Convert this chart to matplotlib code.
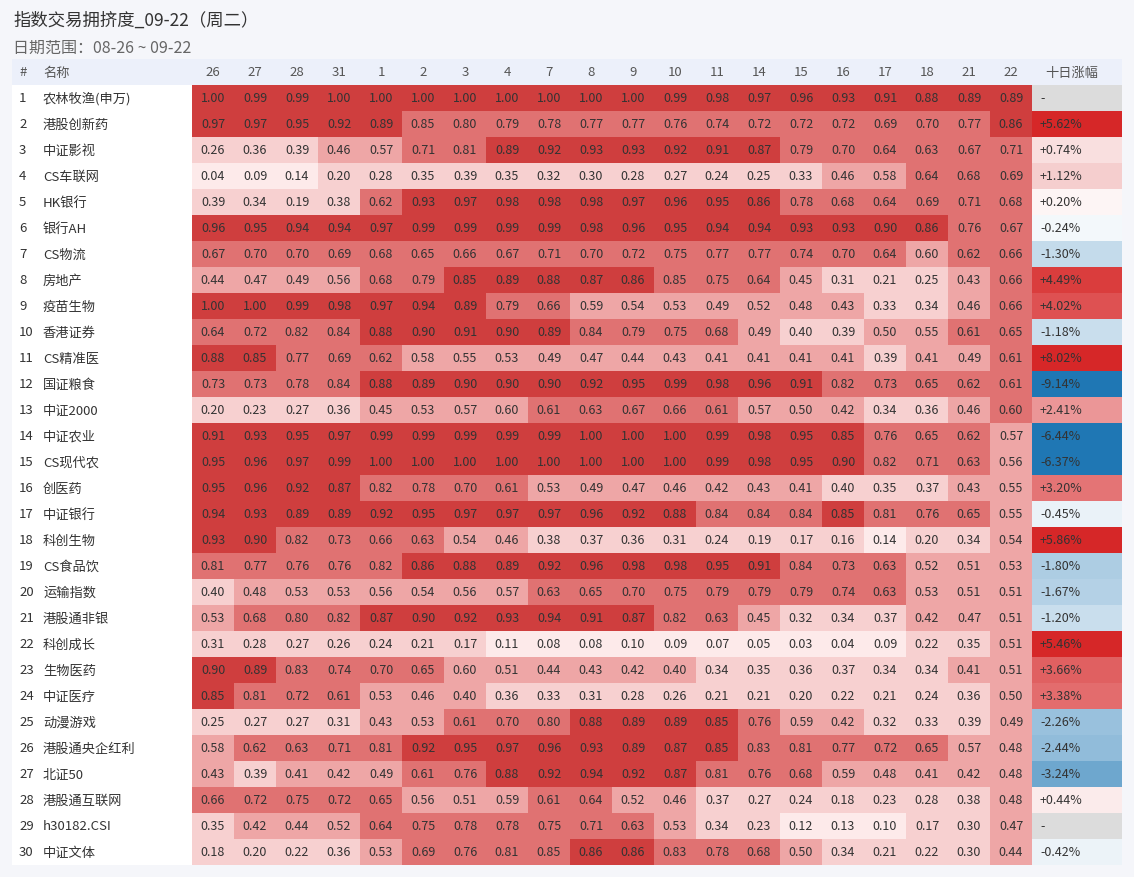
import numpy as np
import matplotlib
matplotlib.use("Agg")
import matplotlib.pyplot as plt
from matplotlib.colors import ListedColormap, BoundaryNorm, LinearSegmentedColormap
from matplotlib.patches import Rectangle

plt.rcParams['font.family'] = ['Noto Sans CJK SC', 'DejaVu Sans']

title = "指数交易拥挤度_09-22（周二）"
subtitle = "日期范围：08-26 ~ 09-22"

days = ["26", "27", "28", "31", "1", "2", "3", "4", "7", "8", "9", "10", "11",
        "14", "15", "16", "17", "18", "21", "22"]

names = ["农林牧渔(申万)", "港股创新药", "中证影视", "CS车联网", "HK银行", "银行AH",
         "CS物流", "房地产", "疫苗生物", "香港证券", "CS精准医", "国证粮食", "中证2000",
         "中证农业", "CS现代农", "创医药", "中证银行", "科创生物", "CS食品饮", "运输指数",
         "港股通非银", "科创成长", "生物医药", "中证医疗", "动漫游戏", "港股通央企红利",
         "北证50", "港股通互联网", "h30182.CSI", "中证文体"]

# crowding values per row (26 .. 22)
crowd = [
    [1.00, 0.99, 0.99, 1.00, 1.00, 1.00, 1.00, 1.00, 1.00, 1.00, 1.00, 0.99, 0.98, 0.97, 0.96, 0.93, 0.91, 0.88, 0.89, 0.89],
    [0.97, 0.97, 0.95, 0.92, 0.89, 0.848, 0.80, 0.79, 0.78, 0.77, 0.77, 0.76, 0.74, 0.72, 0.72, 0.72, 0.69, 0.70, 0.77, 0.86],
    [0.26, 0.36, 0.39, 0.46, 0.57, 0.71, 0.81, 0.89, 0.92, 0.93, 0.93, 0.92, 0.91, 0.87, 0.79, 0.70, 0.64, 0.63, 0.67, 0.71],
    [0.04, 0.09, 0.14, 0.20, 0.28, 0.35, 0.39, 0.35, 0.32, 0.30, 0.28, 0.27, 0.24, 0.25, 0.33, 0.46, 0.58, 0.64, 0.68, 0.69],
    [0.39, 0.34, 0.19, 0.38, 0.62, 0.93, 0.97, 0.98, 0.98, 0.98, 0.97, 0.96, 0.95, 0.86, 0.78, 0.68, 0.64, 0.69, 0.71, 0.68],
    [0.96, 0.95, 0.94, 0.94, 0.97, 0.99, 0.99, 0.99, 0.99, 0.98, 0.96, 0.95, 0.94, 0.94, 0.93, 0.93, 0.90, 0.86, 0.76, 0.67],
    [0.67, 0.70, 0.70, 0.69, 0.68, 0.65, 0.66, 0.67, 0.71, 0.70, 0.72, 0.75, 0.77, 0.77, 0.74, 0.70, 0.64, 0.598, 0.62, 0.66],
    [0.44, 0.47, 0.49, 0.56, 0.68, 0.79, 0.85, 0.89, 0.88, 0.87, 0.86, 0.848, 0.75, 0.64, 0.45, 0.31, 0.21, 0.25, 0.43, 0.66],
    [1.00, 1.00, 0.99, 0.98, 0.97, 0.94, 0.89, 0.79, 0.66, 0.59, 0.54, 0.53, 0.49, 0.52, 0.48, 0.43, 0.33, 0.34, 0.46, 0.66],
    [0.64, 0.72, 0.82, 0.84, 0.88, 0.90, 0.91, 0.90, 0.89, 0.84, 0.79, 0.75, 0.68, 0.49, 0.398, 0.39, 0.50, 0.55, 0.61, 0.65],
    [0.88, 0.85, 0.77, 0.69, 0.62, 0.58, 0.55, 0.53, 0.49, 0.47, 0.44, 0.43, 0.41, 0.41, 0.41, 0.41, 0.39, 0.41, 0.49, 0.61],
    [0.73, 0.73, 0.78, 0.84, 0.88, 0.89, 0.90, 0.90, 0.90, 0.92, 0.95, 0.99, 0.98, 0.96, 0.91, 0.82, 0.73, 0.65, 0.62, 0.61],
    [0.20, 0.23, 0.27, 0.36, 0.45, 0.53, 0.57, 0.598, 0.61, 0.63, 0.67, 0.66, 0.61, 0.57, 0.50, 0.42, 0.34, 0.36, 0.46, 0.60],
    [0.91, 0.93, 0.95, 0.97, 0.99, 0.99, 0.99, 0.99, 0.99, 1.00, 1.00, 1.00, 0.99, 0.98, 0.95, 0.85, 0.76, 0.65, 0.62, 0.57],
    [0.95, 0.96, 0.97, 0.99, 1.00, 1.00, 1.00, 1.00, 1.00, 1.00, 1.00, 1.00, 0.99, 0.98, 0.95, 0.90, 0.82, 0.71, 0.63, 0.56],
    [0.95, 0.96, 0.92, 0.87, 0.82, 0.78, 0.70, 0.61, 0.53, 0.49, 0.47, 0.46, 0.42, 0.43, 0.41, 0.398, 0.35, 0.37, 0.43, 0.55],
    [0.94, 0.93, 0.89, 0.89, 0.92, 0.95, 0.97, 0.97, 0.97, 0.96, 0.92, 0.88, 0.84, 0.84, 0.84, 0.85, 0.81, 0.76, 0.65, 0.55],
    [0.93, 0.90, 0.82, 0.73, 0.66, 0.63, 0.54, 0.46, 0.38, 0.37, 0.36, 0.31, 0.24, 0.19, 0.17, 0.16, 0.14, 0.20, 0.34, 0.54],
    [0.81, 0.77, 0.76, 0.76, 0.82, 0.86, 0.88, 0.89, 0.92, 0.96, 0.98, 0.98, 0.95, 0.91, 0.84, 0.73, 0.63, 0.52, 0.51, 0.53],
    [0.398, 0.48, 0.53, 0.53, 0.56, 0.54, 0.56, 0.57, 0.63, 0.65, 0.70, 0.75, 0.79, 0.79, 0.79, 0.74, 0.63, 0.53, 0.51, 0.51],
    [0.53, 0.68, 0.80, 0.82, 0.87, 0.90, 0.92, 0.93, 0.94, 0.91, 0.87, 0.82, 0.63, 0.45, 0.32, 0.34, 0.37, 0.42, 0.47, 0.51],
    [0.31, 0.28, 0.27, 0.26, 0.24, 0.21, 0.17, 0.11, 0.08, 0.08, 0.10, 0.09, 0.07, 0.05, 0.03, 0.04, 0.09, 0.22, 0.35, 0.51],
    [0.90, 0.89, 0.83, 0.74, 0.70, 0.65, 0.598, 0.51, 0.44, 0.43, 0.42, 0.40, 0.34, 0.35, 0.36, 0.37, 0.34, 0.34, 0.41, 0.51],
    [0.85, 0.81, 0.72, 0.61, 0.53, 0.46, 0.40, 0.36, 0.33, 0.31, 0.28, 0.26, 0.21, 0.21, 0.20, 0.22, 0.21, 0.24, 0.36, 0.50],
    [0.25, 0.27, 0.27, 0.31, 0.43, 0.53, 0.61, 0.70, 0.80, 0.88, 0.89, 0.89, 0.85, 0.76, 0.59, 0.42, 0.32, 0.33, 0.39, 0.49],
    [0.58, 0.62, 0.63, 0.71, 0.81, 0.92, 0.95, 0.97, 0.96, 0.93, 0.89, 0.87, 0.85, 0.83, 0.81, 0.77, 0.72, 0.65, 0.57, 0.48],
    [0.43, 0.39, 0.41, 0.42, 0.49, 0.61, 0.76, 0.88, 0.92, 0.94, 0.92, 0.87, 0.81, 0.76, 0.68, 0.59, 0.48, 0.41, 0.42, 0.48],
    [0.66, 0.72, 0.75, 0.72, 0.65, 0.56, 0.51, 0.59, 0.61, 0.64, 0.52, 0.46, 0.37, 0.27, 0.24, 0.18, 0.23, 0.28, 0.38, 0.48],
    [0.35, 0.42, 0.44, 0.52, 0.64, 0.75, 0.78, 0.78, 0.75, 0.71, 0.63, 0.53, 0.34, 0.23, 0.12, 0.13, 0.10, 0.17, 0.30, 0.47],
    [0.18, 0.20, 0.22, 0.36, 0.53, 0.69, 0.76, 0.81, 0.848, 0.86, 0.86, 0.83, 0.78, 0.68, 0.50, 0.34, 0.21, 0.22, 0.30, 0.44],
]

# 十日涨幅 (%), nan shown as "-"
change = [np.nan, 5.62, 0.74, 1.12, 0.20, -0.24, -1.30, 4.49, 4.02, -1.18,
          8.02, -9.14, 2.41, -6.44, -6.37, 3.20, -0.45, 5.86, -1.80, -1.67,
          -1.20, 5.46, 3.66, 3.38, -2.26, -2.44, -3.24, 0.44, np.nan, -0.42]

# layout (pixels)
W, H = 1134, 878
TABLE_L = 12
HEAD_TOP = 60
TOP = 86
ROW_H = 26
HEAT_L = 192
COL_W = 42
CHG_L = 1032
CHG_R = 1122

fig = plt.figure(figsize=(W / 100, H / 100), dpi=100, facecolor='#f5f6fa')
ax = fig.add_axes([0, 0, 1, 1])
ax.set_facecolor('#f5f6fa')

n_rows = len(names)
n_cols = len(days)
bottom = TOP + n_rows * ROW_H
heat_r = HEAT_L + n_cols * COL_W

ax.add_patch(Rectangle((TABLE_L, HEAD_TOP), CHG_R - TABLE_L, TOP - HEAD_TOP,
                       facecolor='#ecf0fa', edgecolor='none'))
ax.add_patch(Rectangle((TABLE_L, TOP), HEAT_L - TABLE_L, bottom - TOP,
                       facecolor='white', edgecolor='none'))

band_cmap = ListedColormap(['#fdeaea', '#f7d0d0', '#eea6a6', '#e07272', '#cf3e3e'])
band_norm = BoundaryNorm([0, 0.15, 0.399, 0.599, 0.849, 1.01], band_cmap.N)
ax.imshow(np.array(crowd), cmap=band_cmap, norm=band_norm, aspect='auto',
          interpolation='nearest', extent=(HEAT_L, heat_r, bottom, TOP))

chg_cmap = LinearSegmentedColormap.from_list('chg', ['#1f77b4', '#ffffff', '#d62728'])
chg_cmap.set_bad('#dcdcdc')
chg_arr = np.ma.masked_invalid(np.array(change, dtype=float)).reshape(-1, 1)
ax.imshow(chg_arr, cmap=chg_cmap, vmin=-5, vmax=5, aspect='auto',
          interpolation='nearest', extent=(CHG_L, CHG_R, bottom, TOP))

ax.set_xlim(0, W)
ax.set_ylim(H, 0)
ax.axis('off')

txt = '#333333'
hdr_y = (HEAD_TOP + TOP) / 2
ax.text(19, hdr_y, "#", ha='left', va='center', fontsize=9.5, color='#555555')
ax.text(43, hdr_y, "名称", ha='left', va='center', fontsize=9.5, color='#555555')
for j, d in enumerate(days):
    ax.text(HEAT_L + (j + 0.5) * COL_W, hdr_y, d, ha='center', va='center',
            fontsize=9.5, color='#555555')
ax.text(CHG_L + 13, hdr_y, "十日涨幅", ha='left', va='center', fontsize=9.5, color='#555555')

for i, name in enumerate(names):
    y = TOP + (i + 0.5) * ROW_H
    ax.text(19, y, str(i + 1), ha='left', va='center', fontsize=9.5, color=txt)
    ax.text(43, y, name, ha='left', va='center', fontsize=9.5, color=txt)
    for j, v in enumerate(crowd[i]):
        ax.text(HEAT_L + (j + 0.5) * COL_W, y, f"{v:.2f}", ha='center', va='center',
                fontsize=9, color=txt)
    c = change[i]
    label = "-" if np.isnan(c) else f"{c:+.2f}%"
    ax.text(CHG_L + 8, y, label, ha='left', va='center', fontsize=9, color=txt)

ax.text(13, 21, title, ha='left', va='center', fontsize=12.5, color='#333333')
ax.text(13, 48, subtitle, ha='left', va='center', fontsize=11.5, color='#666666')

fig.savefig('out.png', dpi=100, facecolor=fig.get_facecolor())
